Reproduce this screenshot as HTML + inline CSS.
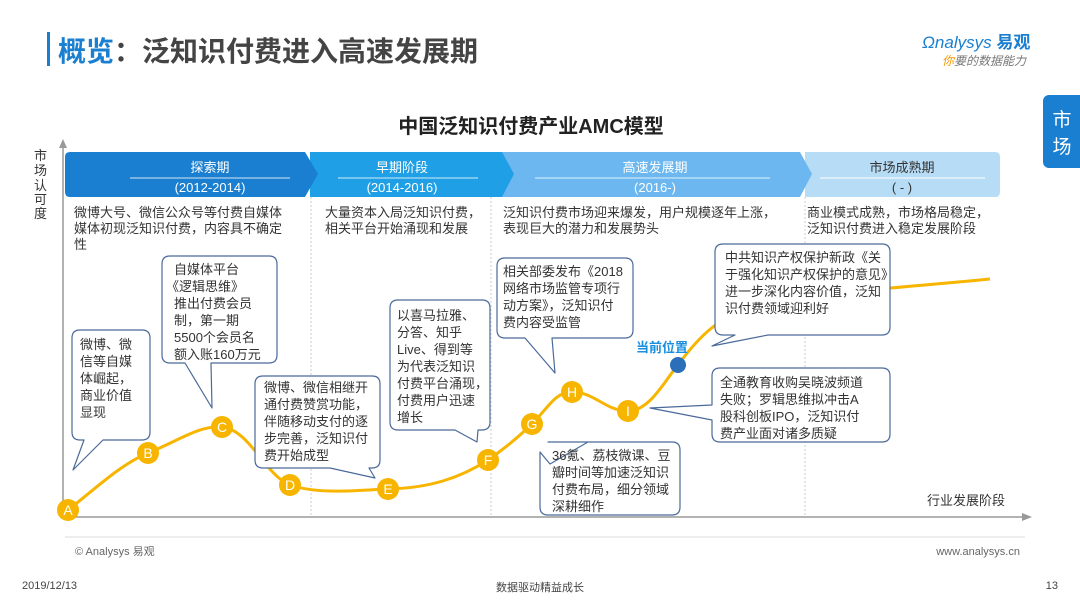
<!DOCTYPE html>
<html><head><meta charset="utf-8"><style>
body{margin:0;width:1080px;height:608px;background:#fff;overflow:hidden}
svg{display:block}
text{font-family:"Liberation Sans","Noto Sans CJK SC",sans-serif}
</style></head><body>
<svg width="1080" height="608" viewBox="0 0 1080 608" xmlns="http://www.w3.org/2000/svg">
<rect x="47" y="32" width="3" height="34" fill="#1a7fd0"/>
<text x="58" y="61" font-size="28" font-weight="bold" fill="#1a7fd0">概览<tspan fill="#444">：泛知识付费进入高速发展期</tspan></text>
<text x="922" y="48" font-size="17" font-style="italic" fill="#1a7fd0">Ωnalysys <tspan font-weight="bold" font-style="normal">易观</tspan></text>
<text x="942" y="65" font-size="12" font-style="italic" fill="#777"><tspan fill="#f39800">你</tspan>要的数据能力</text>
<rect x="1043" y="95" width="45" height="73" rx="6" fill="#1a7fd0"/>
<text x="1062" y="126" font-size="19" fill="#fff" text-anchor="middle">市</text>
<text x="1062" y="153" font-size="19" fill="#fff" text-anchor="middle">场</text>
<text x="531" y="133" font-size="20" font-weight="bold" fill="#222" text-anchor="middle">中国泛知识付费产业AMC模型</text>
<!-- axes -->
<line x1="63" y1="142" x2="63" y2="518" stroke="#999" stroke-width="1.5"/>
<path d="M59,148 L63,139 L67,148Z" fill="#999"/>
<line x1="63" y1="517" x2="1028" y2="517" stroke="#999" stroke-width="1.5"/>
<path d="M1022,513 L1032,517 L1022,521Z" fill="#999"/>
<g font-size="13" fill="#333">
<text x="34" y="160">市</text><text x="34" y="175">场</text><text x="34" y="190">认</text><text x="34" y="204">可</text><text x="34" y="218">度</text>
</g>
<text x="1005" y="505" font-size="13" fill="#333" text-anchor="end">行业发展阶段</text>
<!-- dividers -->
<g stroke="#ccc" stroke-dasharray="2,2">
<line x1="311" y1="197" x2="311" y2="517"/><line x1="491" y1="197" x2="491" y2="517"/><line x1="805" y1="197" x2="805" y2="517"/>
</g>
<!-- bands -->
<path d="M805,152 L995,152 Q1000,152 1000,157 L1000,192 Q1000,197 995,197 L805,197Z" fill="#b7dcf5"/>
<path d="M500,152 L800,152 L812,174 L800,197 L500,197Z" fill="#6cb7ef"/>
<path d="M310,152 L502,152 L514,174 L502,197 L310,197Z" fill="#1fa0e6"/>
<path d="M70,152 L305,152 L318,174 L305,197 L70,197 Q65,197 65,192 L65,157 Q65,152 70,152Z" fill="#1a7fd0"/>
<g stroke="#fff" stroke-width="1" opacity="0.8">
<line x1="130" y1="178" x2="290" y2="178"/><line x1="338" y1="178" x2="478" y2="178"/><line x1="535" y1="178" x2="770" y2="178"/>
</g>
<line x1="820" y1="178" x2="985" y2="178" stroke="#fff"/>
<g font-size="13" fill="#fff" text-anchor="middle">
<text x="210" y="172">探索期</text><text x="210" y="192">(2012-2014)</text>
<text x="402" y="172">早期阶段</text><text x="402" y="192">(2014-2016)</text>
<text x="655" y="172">高速发展期</text><text x="655" y="192">(2016-)</text>
<text x="902" y="172" fill="#333">市场成熟期</text><text x="902" y="192" fill="#333">( - )</text>
</g>
<g font-size="13" fill="#333">
<text x="74" y="217">微博大号、微信公众号等付费自媒体</text>
<text x="74" y="233">媒体初现泛知识付费，内容具不确定</text>
<text x="74" y="249">性</text>
<text x="325" y="217">大量资本入局泛知识付费，</text>
<text x="325" y="233">相关平台开始涌现和发展</text>
<text x="503" y="217">泛知识付费市场迎来爆发，用户规模逐年上涨，</text>
<text x="503" y="233">表现巨大的潜力和发展势头</text>
<text x="807" y="217">商业模式成熟，市场格局稳定，</text>
<text x="807" y="233">泛知识付费进入稳定发展阶段</text>
</g>
<!-- curve -->
<path d="M68,510 C100,485 120,465 148,453 C180,440 200,425 222,427 C250,430 265,475 290,485 C320,495 360,490 388,489 C430,488 460,478 488,460 C505,448 515,440 532,424 C548,408 555,392 572,392 C595,392 605,411 628,411 C650,411 665,380 678,365 C700,335 720,315 760,305 C820,292 900,288 990,279" fill="none" stroke="#f7b500" stroke-width="3"/>
<circle cx="678" cy="365" r="8" fill="#2a6fb8"/>
<text x="662" y="352" font-size="13" font-weight="bold" fill="#1a8fe0" text-anchor="middle">当前位置</text>
<g fill="#f7b500">
<circle cx="68" cy="510" r="11"/><circle cx="148" cy="453" r="11"/><circle cx="222" cy="427" r="11"/><circle cx="290" cy="485" r="11"/><circle cx="388" cy="489" r="11"/><circle cx="488" cy="460" r="11"/><circle cx="532" cy="424" r="11"/><circle cx="572" cy="392" r="11"/><circle cx="628" cy="411" r="11"/>
</g>
<g font-size="14" fill="#fff" text-anchor="middle">
<text x="68" y="515">A</text><text x="148" y="458">B</text><text x="222" y="432">C</text><text x="290" y="490">D</text><text x="388" y="494">E</text><text x="488" y="465">F</text><text x="532" y="429">G</text><text x="572" y="397">H</text><text x="628" y="416">I</text>
</g>
<!-- callouts -->
<g fill="#fff" stroke="#4a6a9a" stroke-width="1.2" stroke-linejoin="round">
<path d="M80,330 L142,330 Q150,330 150,338 L150,432 Q150,440 142,440 L103,440 L73,470 L84,440 L80,440 Q72,440 72,432 L72,338 Q72,330 80,330Z"/>
<path d="M170,256 L269,256 Q277,256 277,264 L277,355 Q277,363 269,363 L211,363 L212,408 L185,363 L170,363 Q162,363 162,355 L162,264 Q162,256 170,256Z"/>
<path d="M263,376 L372,376 Q380,376 380,384 L380,460 Q380,468 372,468 L369,468 L375,478 L330,468 L263,468 Q255,468 255,460 L255,384 Q255,376 263,376Z"/>
<path d="M398,300 L482,300 Q490,300 490,308 L490,422 Q490,430 482,430 L478,430 L477,442 L455,430 L398,430 Q390,430 390,422 L390,308 Q390,300 398,300Z"/>
<path d="M505,258 L625,258 Q633,258 633,266 L633,330 Q633,338 625,338 L552,338 L555,373 L525,338 L505,338 Q497,338 497,330 L497,266 Q497,258 505,258Z"/>
<path d="M723,244 L882,244 Q890,244 890,252 L890,327 Q890,335 882,335 L768,335 L712,346 L735,335 L723,335 Q715,335 715,327 L715,252 Q715,244 723,244Z"/>
<path d="M720,368 L882,368 Q890,368 890,376 L890,434 Q890,442 882,442 L720,442 Q712,442 712,434 L712,420 L650,408 L712,405 L712,376 Q712,368 720,368Z"/>
<path d="M548,442 L672,442 Q680,442 680,450 L680,507 Q680,515 672,515 L548,515 Q540,515 540,507 L540,452 L550,464 L588,442Z"/>
</g>
<g font-size="13" fill="#333">
<text x="80" y="349">微博、微</text><text x="80" y="366">信等自媒</text><text x="80" y="383">体崛起，</text><text x="80" y="400">商业价值</text><text x="80" y="417">显现</text>
<text x="174" y="274">自媒体平台</text><text x="166" y="291">《逻辑思维》</text><text x="174" y="308">推出付费会员</text><text x="174" y="325">制，第一期</text><text x="174" y="342">5500个会员名</text><text x="174" y="359">额入账160万元</text>
<text x="264" y="392">微博、微信相继开</text><text x="264" y="409">通付费赞赏功能，</text><text x="264" y="426">伴随移动支付的逐</text><text x="264" y="443">步完善，泛知识付</text><text x="264" y="460">费开始成型</text>
<text x="397" y="320">以喜马拉雅、</text><text x="397" y="337">分答、知乎</text><text x="397" y="354">Live、得到等</text><text x="397" y="371">为代表泛知识</text><text x="397" y="388">付费平台涌现，</text><text x="397" y="405">付费用户迅速</text><text x="397" y="422">增长</text>
<text x="503" y="276">相关部委发布《2018</text><text x="503" y="293">网络市场监管专项行</text><text x="503" y="310">动方案》，泛知识付</text><text x="503" y="327">费内容受监管</text>
<text x="725" y="262">中共知识产权保护新政《关</text><text x="725" y="279">于强化知识产权保护的意见》</text><text x="725" y="296">进一步深化内容价值，泛知</text><text x="725" y="313">识付费领域迎利好</text>
<text x="720" y="387">全通教育收购吴晓波频道</text><text x="720" y="404">失败；罗辑思维拟冲击A</text><text x="720" y="421">股科创板IPO，泛知识付</text><text x="720" y="438">费产业面对诸多质疑</text>
<text x="552" y="460">36氪、荔枝微课、豆</text><text x="552" y="477">瓣时间等加速泛知识</text><text x="552" y="494">付费布局，细分领域</text><text x="552" y="511">深耕细作</text>
</g>
<!-- footer -->
<line x1="65" y1="537" x2="1025" y2="537" stroke="#ddd"/>
<text x="75" y="555" font-size="11" fill="#666">© Analysys 易观</text>
<text x="1020" y="555" font-size="11" fill="#666" text-anchor="end">www.analysys.cn</text>
<text x="22" y="589" font-size="11" fill="#444">2019/12/13</text>
<text x="540" y="591" font-size="11" fill="#444" text-anchor="middle">数据驱动精益成长</text>
<text x="1058" y="589" font-size="11" fill="#444" text-anchor="end">13</text>
</svg>
</body></html>
